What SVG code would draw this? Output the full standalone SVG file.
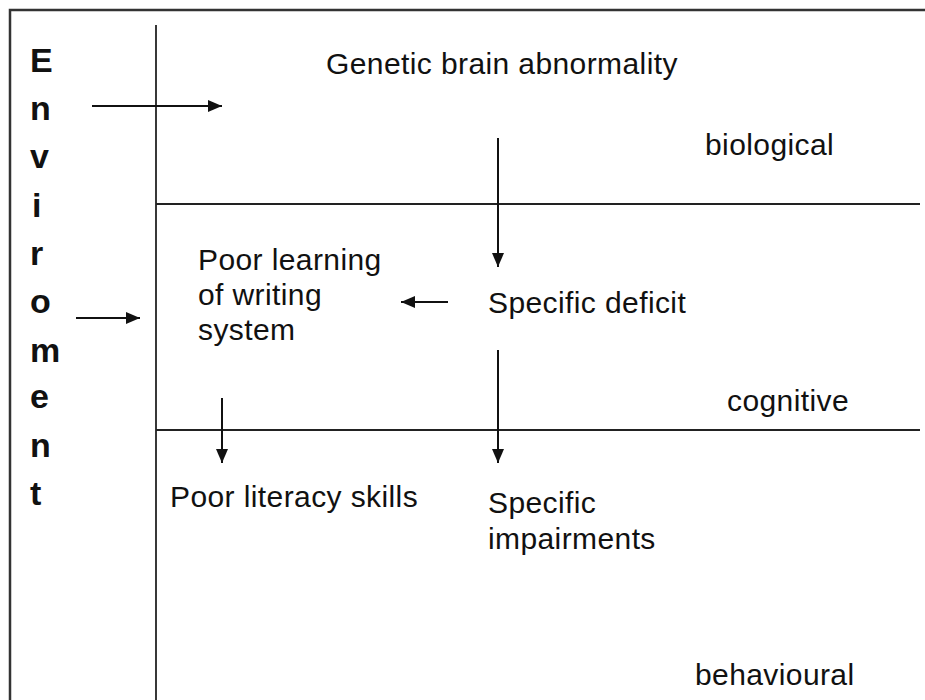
<svg xmlns="http://www.w3.org/2000/svg" width="925" height="700" viewBox="0 0 925 700">
<style>
.t{font-family:"Liberation Sans",Arial,sans-serif;font-size:30px;fill:#111;letter-spacing:0.4px}
.env{font-family:"Liberation Sans",Arial,sans-serif;font-size:34px;font-weight:bold;fill:#111}
.ln{stroke:#222;stroke-width:1.8;fill:none}
.bd{stroke:#333;stroke-width:2.5;fill:none}
</style>
<defs>
<marker id="head" viewBox="0 0 14 12" refX="14" refY="6" markerWidth="14" markerHeight="12" orient="auto" markerUnits="userSpaceOnUse">
<path d="M0,0 L14,6 L0,12 Z" fill="#111"/>
</marker>
</defs>
<rect width="925" height="700" fill="#fff"/>
<g id="frame">
<path class="bd" d="M10,700 V10 H925"/>
<path class="ln" d="M156,25 V700"/>
<path class="ln" d="M156,204 H920"/>
<path class="ln" d="M156,430 H920"/>
</g>
<g id="environment">
<text class="env" x="30" y="72">E</text>
<text class="env" x="30" y="120">n</text>
<text class="env" x="30" y="168">v</text>
<text class="env" x="32" y="217">i</text>
<text class="env" x="30" y="265">r</text>
<text class="env" x="30" y="313">o</text>
<text class="env" x="30" y="362">m</text>
<text class="env" x="30" y="408">e</text>
<text class="env" x="30" y="457">n</text>
<text class="env" x="30" y="505">t</text>
</g>
<g id="genetic"><text class="t" x="326" y="74">Genetic brain abnormality</text></g>
<g id="biological"><text class="t" x="705" y="155">biological</text></g>
<g id="poor-learning">
<text class="t" x="198" y="270">Poor learning</text>
<text class="t" x="198" y="305">of writing</text>
<text class="t" x="198" y="340">system</text>
</g>
<g id="specific-deficit"><text class="t" x="488" y="313">Specific deficit</text></g>
<g id="cognitive"><text class="t" x="727" y="411">cognitive</text></g>
<g id="poor-literacy"><text class="t" x="170" y="507">Poor literacy skills</text></g>
<g id="specific-impairments">
<text class="t" x="488" y="513">Specific</text>
<text class="t" x="488" y="549">impairments</text>
</g>
<g id="behavioural"><text class="t" x="695" y="685">behavioural</text></g>
<g id="connectors" stroke="#111" stroke-width="2" fill="none">
<path d="M92,106 H222" marker-end="url(#head)"/>
<path d="M76,318 H140" marker-end="url(#head)"/>
<path d="M498,138 V267" marker-end="url(#head)"/>
<path d="M448,302 H401" marker-end="url(#head)"/>
<path d="M498,350 V463" marker-end="url(#head)"/>
<path d="M222,398 V463" marker-end="url(#head)"/>
</g>
</svg>
